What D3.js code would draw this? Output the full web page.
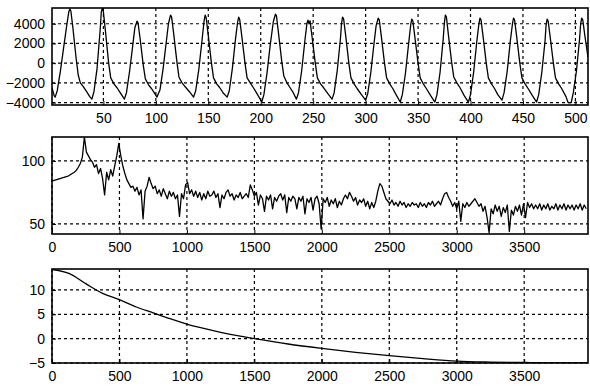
<!DOCTYPE html>
<html>
<head>
<meta charset="utf-8">
<script src="https://cdn.jsdelivr.net/npm/d3@7"></script>
<style>
  body { margin: 0; background: #fff; }
  svg text { font-family: "Liberation Sans", Arial, sans-serif; font-size: 14px; fill: #000; }
</style>
</head>
<body>
<svg id="chart" width="590" height="392"></svg>
<script>
// --- panel 1: time signal (sample index, amplitude) vertices
var waveSamples = [1,3,4,6,9,12,15,17,18,19,21,24,26,28,31,34,37,39,
  41,44,47,48,49,50,52,55,57,60,63,66,70,
  72,75,78,80,82,83,85,88,90,93,96,99,101,
  104,107,110,112,114,115,117,120,122,125,128,132,136,
  138,141,144,146,147,148,150,153,155,158,161,164,168,
  170,173,176,178,179,180,182,185,187,190,193,197,201,
  203,206,209,212,214,215,217,220,222,225,228,231,234,
  236,239,242,244,245,246,247,249,252,254,257,260,264,268,
  270,273,276,277,278,279,281,284,286,289,292,296,300,
  302,305,308,310,312,313,315,318,320,323,326,329,333,
  335,338,341,343,344,345,347,350,352,355,358,362,366,
  368,371,374,375,376,377,379,382,384,387,390,394,398,
  400,403,406,408,409,410,412,415,417,420,423,426,430,
  432,435,438,440,441,442,444,447,449,452,455,459,463,
  465,468,471,472,473,474,476,479,481,484,487,491,493,496,
  498,501,504,505,506,507,509,512];
var waveValues = [-2500,-3300,-3450,-2800,-800,1500,3800,5200,5500,5300,3500,500,-1200,-2000,-2400,-2900,-3400,-3650,
  -2900,-500,3500,5200,5580,5200,3200,0,-1500,-2100,-2500,-3000,-3650,
  -3000,-800,1800,3600,4260,4100,2500,-200,-1600,-2200,-2600,-3100,-3450,
  -2700,-500,2200,4000,4870,4700,3000,200,-1400,-2000,-2400,-2900,-3450,
  -2800,-600,2300,4300,4870,4600,2800,0,-1500,-2100,-2500,-3000,-3450,
  -2800,-500,2500,4200,4670,4400,2700,0,-1500,-2000,-2500,-3200,-3950,
  -3200,-1000,1800,4200,4970,4800,3000,200,-1300,-2000,-2500,-3000,-3650,
  -3000,-800,2200,4000,4360,4000,4300,2600,0,-1500,-2100,-2500,-3100,-3650,
  -3000,-700,2500,4000,4670,4500,2800,0,-1500,-2100,-2600,-3200,-3750,
  -3100,-900,2000,3800,4570,4400,2700,0,-1500,-2100,-2600,-3200,-3950,
  -3200,-1000,2000,3900,4470,4300,2600,0,-1500,-2100,-2600,-3300,-3950,
  -3200,-900,2500,4000,4870,4700,2800,100,-1400,-2000,-2500,-3300,-3950,
  -3200,-900,2200,4000,4570,4400,2700,0,-1500,-2100,-2600,-3200,-3750,
  -3000,-800,2300,4000,4570,4400,2700,0,-1500,-2100,-2600,-3300,-3950,
  -3200,-900,2200,3800,4470,4300,2600,0,-1500,-2100,-2600,-3400,-4000,-4000,
  -3000,-800,2500,4000,4570,4400,2800,600];
var waveXTicks = [50,100,150,200,250,300,350,400,450,500];
var waveYTicks = [-4000,-2000,0,2000,4000];

// --- panel 2: spectrum in dB, one value every 15 Hz from 0 Hz
var spectrumStepHz = 15;
var spectrumDb = [
  84,84.5,85,85.5,86,86.5,87,87.5,88,89,
  90,91,92.5,95,98,103,119,107,104,101,
  99,95,97,90,94,86,73,91,85,93,
  88,96,104,114,104,96,90,85,82,79,
  80,76,79,73,77,54,76,80,87,82,
  78,80,74,77,72,78,74,70,76,72,
  75,70,73,56,74,70,81,83,74,77,
  72,76,71,75,69,74,70,76,72,73,
  76,71,74,63,73,70,75,77,72,74,
  69,73,71,75,70,72,74,71,81,77,
  72,75,65,73,70,60,72,69,73,62,
  71,68,72,74,69,73,59,71,68,72,
  70,62,71,68,72,58,70,67,71,61,
  70,72,66,46,70,67,71,64,69,66,
  70,63,68,65,70,73,70,75,72,68,
  71,65,69,67,70,64,68,62,67,63,
  68,76,82,80,75,70,68,66,69,65,
  67,64,68,65,67,63,66,64,67,65,
  66,63,67,64,66,63,67,65,68,64,
  66,68,65,70,74,75,71,68,64,67,
  62,68,52,66,63,67,64,66,68,70,
  67,64,66,60,64,55,43,62,58,65,
  60,64,56,63,59,65,44,61,57,64,
  60,65,57,66,55,67,63,66,62,65,
  62,66,61,65,62,66,61,64,62,66,
  61,65,62,66,61,65,62,65,61,65,
  62,66,61,65,62];
var freqTicks = [0,500,1000,1500,2000,2500,3000,3500];
var spectrumYTicks = [50,100];

// --- panel 3: smooth decaying curve
var curveFreq = [0,125,250,375,500,625,750,875,1000,1125,1250,1375,1500,1750,2000,2250,2500,2750,3000,3250,3500,3750,3975];
var curveValues = [14.2,13.4,11.3,9.3,8.0,6.5,5.3,4.1,3.0,2.1,1.3,0.6,0.0,-1.1,-2.0,-2.8,-3.5,-4.1,-4.6,-4.8,-4.9,-5.0,-5.0];
var curveYTicks = [-5,0,5,10];

var svg = d3.select("#chart");
var left = 52, right = 588;

var drawPanel = function(id, top, bottom, xDomain, yDomain, xTicks, yTicks, points, curve){
  var x = d3.scaleLinear().domain(xDomain).range([left, right]);
  var y = d3.scaleLinear().domain(yDomain).range([bottom, top]);
  var g = svg.append("g");

  g.append("clipPath").attr("id", "clip" + id)
    .append("rect").attr("x", left).attr("y", top).attr("width", right - left).attr("height", bottom - top);

  // dashed grid
  g.selectAll("line.gx").data(xTicks).enter().append("line")
    .attr("x1", function(d){ return x(d); }).attr("x2", function(d){ return x(d); })
    .attr("y1", top).attr("y2", bottom)
    .style("stroke", "#000").style("stroke-width", "1.2px").attr("stroke-dasharray", "3,3");
  g.selectAll("line.gy").data(yTicks).enter().append("line")
    .attr("x1", left).attr("x2", right)
    .attr("y1", function(d){ return y(d); }).attr("y2", function(d){ return y(d); })
    .style("stroke", "#000").style("stroke-width", "1.2px").attr("stroke-dasharray", "3,3");

  // data trace
  var line = d3.line()
    .x(function(d){ return x(d[0]); })
    .y(function(d){ return y(d[1]); })
    .curve(curve || d3.curveLinear);
  g.append("path").datum(points)
    .attr("clip-path", "url(#clip" + id + ")")
    .attr("d", line)
    .style("fill", "none").style("stroke", "#000").style("stroke-width", "1.3px")
    .style("stroke-linejoin", "round");

  // axes with inward ticks, no domain path, plain integer labels
  var xAxis = g.append("g").attr("transform", "translate(0," + bottom + ")")
    .call(d3.axisBottom(x).tickValues(xTicks).tickFormat(d3.format("d")).tickSizeInner(-4).tickSizeOuter(0).tickPadding(8));
  var yAxis = g.append("g").attr("transform", "translate(" + left + ",0)")
    .call(d3.axisLeft(y).tickValues(yTicks).tickFormat(d3.format("d")).tickSizeInner(-4).tickSizeOuter(0).tickPadding(7));
  [xAxis, yAxis].forEach(function(a){
    a.select(".domain").remove();
    a.selectAll("line").style("stroke", "#000");
    a.selectAll("text").attr("font-family", null).attr("font-size", null).style("fill", "#000");
  });

  g.append("rect")
    .attr("x", left).attr("y", top).attr("width", right - left).attr("height", bottom - top)
    .style("fill", "none").style("stroke", "#000").style("stroke-width", "1.6px");
};

var wavePoints = waveSamples.map(function(s, i){ return [s, waveValues[i]]; });
drawPanel(1, 8, 105, [1, 512], [-4250, 5600], waveXTicks, waveYTicks, wavePoints);

var spectrumPoints = spectrumDb.map(function(v, i){ return [i * spectrumStepHz, v]; });
drawPanel(2, 137, 234, [0, 3973], [42, 119], freqTicks, spectrumYTicks, spectrumPoints);

var curvePoints = curveFreq.map(function(f, i){ return [f, curveValues[i]]; });
drawPanel(3, 269, 363, [0, 3973], [-5, 14.3], freqTicks, curveYTicks, curvePoints, d3.curveMonotoneX);
</script>
</body>
</html>
